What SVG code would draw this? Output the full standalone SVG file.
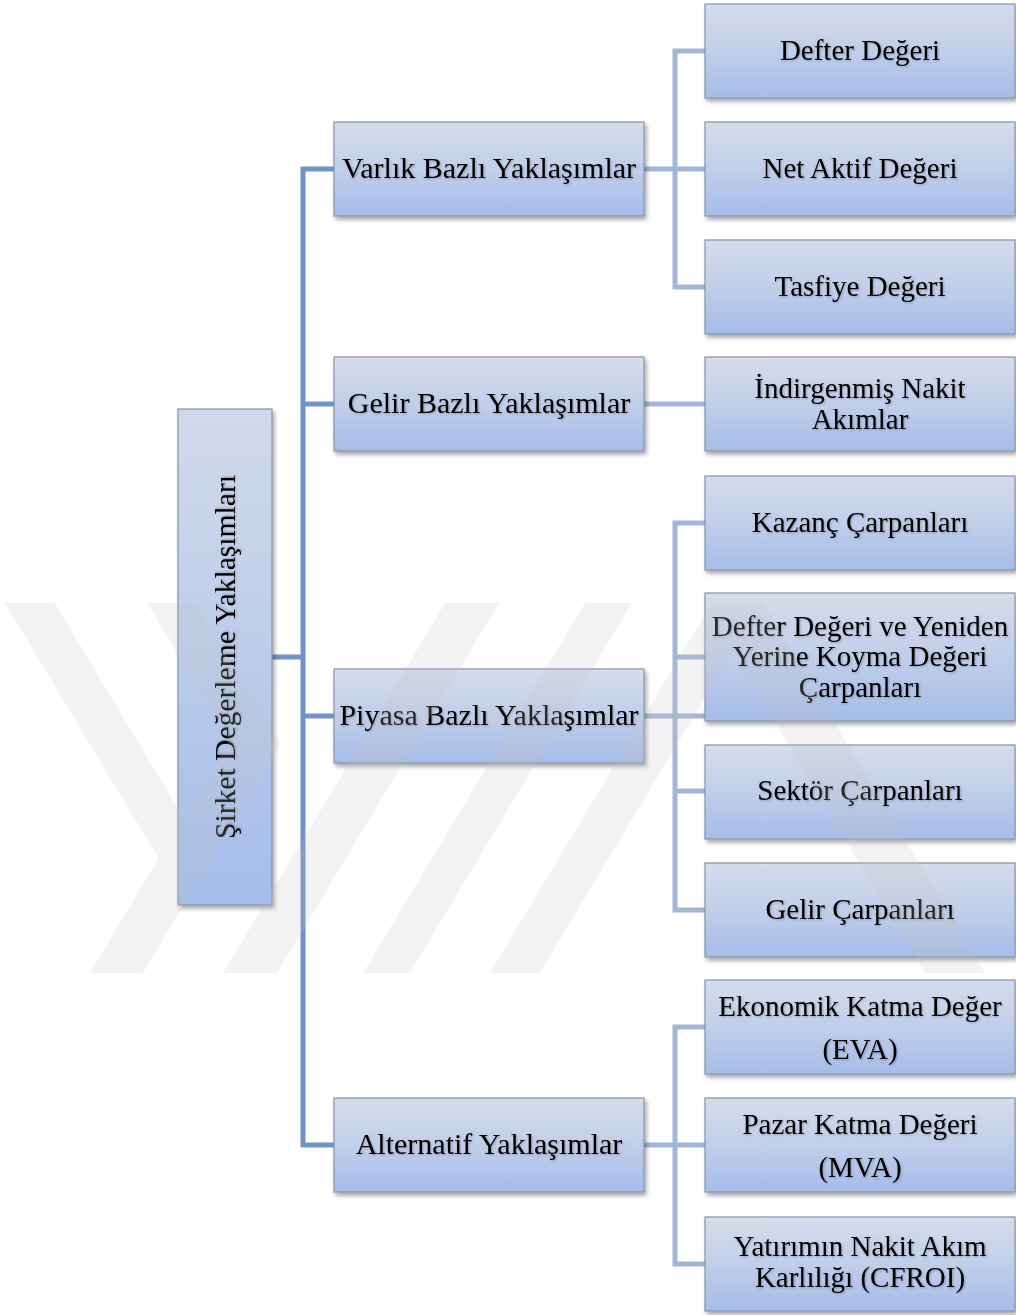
<svg xmlns="http://www.w3.org/2000/svg" width="1016" height="1315" viewBox="0 0 1016 1315">
  <defs>
    <linearGradient id="boxFill" x1="0" y1="0" x2="0" y2="1">
      <stop offset="0" stop-color="#D6DDEB"/>
      <stop offset="0.45" stop-color="#C3D0EA"/>
      <stop offset="1" stop-color="#A5BDE9"/>
    </linearGradient>
    <linearGradient id="rootFill" x1="0" y1="0" x2="0" y2="1">
      <stop offset="0" stop-color="#D2DAEA"/>
      <stop offset="0.5" stop-color="#BCCCEA"/>
      <stop offset="1" stop-color="#A4BDEB"/>
    </linearGradient>
    <filter id="boxShadow" x="-10%" y="-10%" width="125%" height="130%">
      <feDropShadow dx="2" dy="3" stdDeviation="2" flood-color="#000" flood-opacity="0.35"/>
    </filter>
    <filter id="textGlow" x="-5%" y="-20%" width="110%" height="140%">
      <feDropShadow dx="1" dy="1" stdDeviation="1" flood-color="#000" flood-opacity="0.25"/>
    </filter>
  </defs>
  <style>
    .box { fill: url(#boxFill); stroke: #8893A8; stroke-width: 1.2; filter: url(#boxShadow); }
    .root { fill: url(#rootFill); stroke: #8893A8; stroke-width: 1.2; filter: url(#boxShadow); }
    .lbl { font-family: "Liberation Serif", "Times New Roman", serif; font-size: 29px; fill: #000; text-anchor: middle; filter: url(#textGlow); }
    .big { font-size: 30px; }
    .vert { font-size: 29.6px; }
    .trunk { fill: none; stroke: #7293C7; stroke-width: 5; stroke-linejoin: miter; stroke-linecap: butt; }
    .twig { fill: none; stroke: #A2B6DA; stroke-width: 5; stroke-linejoin: miter; stroke-linecap: butt; }
    .mark { fill: #C4C4C4; opacity: 0.2; }
  </style>

  <rect x="0" y="0" width="1016" height="1315" fill="#FFFFFF"/>

  <!-- connectors -->
  <g id="connectors">
    <path class="trunk" d="M272 657 H303"/>
    <path class="trunk" d="M334 169 H303 V1145 H334"/>
    <path class="trunk" d="M303 404 H334"/>
    <path class="trunk" d="M303 716 H334"/>

    <path class="twig" d="M705 51 H675 V287 H705"/>
    <path class="twig" d="M644 169 H705"/>
    <path class="twig" d="M644 404 H705"/>
    <path class="twig" d="M705 523 H675 V910 H705"/>
    <path class="twig" d="M644 716 H705"/>
    <path class="twig" d="M675 657 H705"/>
    <path class="twig" d="M675 791 H705"/>
    <path class="twig" d="M705 1027 H675 V1264 H705"/>
    <path class="twig" d="M644 1145 H705"/>
  </g>

  <!-- root -->
  <g id="root">
    <rect class="root" x="178" y="409" width="94" height="496"/>
    <text class="lbl vert" transform="translate(235 657) rotate(-90)" x="0" y="0">Şirket Değerleme Yaklaşımları</text>
  </g>

  <!-- first level -->
  <g id="varlik">
    <rect class="box" x="334" y="122" width="310" height="94"/>
    <text class="lbl big" x="489" y="178">Varlık Bazlı Yaklaşımlar</text>
  </g>
  <g id="gelir">
    <rect class="box" x="334" y="357" width="310" height="94"/>
    <text class="lbl big" x="489" y="413">Gelir Bazlı Yaklaşımlar</text>
  </g>
  <g id="piyasa">
    <rect class="box" x="334" y="669" width="310" height="94"/>
    <text class="lbl big" x="489" y="725">Piyasa Bazlı Yaklaşımlar</text>
  </g>
  <g id="alternatif">
    <rect class="box" x="334" y="1098" width="310" height="94"/>
    <text class="lbl big" x="489" y="1154">Alternatif Yaklaşımlar</text>
  </g>

  <!-- second level -->
  <g id="defter-degeri">
    <rect class="box" x="705" y="4" width="310" height="94"/>
    <text class="lbl" x="860" y="60">Defter Değeri</text>
  </g>
  <g id="net-aktif">
    <rect class="box" x="705" y="122" width="310" height="94"/>
    <text class="lbl" x="860" y="178">Net Aktif Değeri</text>
  </g>
  <g id="tasfiye">
    <rect class="box" x="705" y="240" width="310" height="94"/>
    <text class="lbl" x="860" y="296">Tasfiye Değeri</text>
  </g>
  <g id="indirgenmis">
    <rect class="box" x="705" y="357" width="310" height="94"/>
    <text class="lbl" x="860" y="398">İndirgenmiş Nakit</text>
    <text class="lbl" x="860" y="429">Akımlar</text>
  </g>
  <g id="kazanc">
    <rect class="box" x="705" y="476" width="310" height="94"/>
    <text class="lbl" x="860" y="532">Kazanç Çarpanları</text>
  </g>
  <g id="defter-yeniden">
    <rect class="box" x="705" y="593" width="310" height="128"/>
    <text class="lbl" x="860" y="636">Defter Değeri ve Yeniden</text>
    <text class="lbl" x="860" y="666">Yerine Koyma Değeri</text>
    <text class="lbl" x="860" y="697">Çarpanları</text>
  </g>
  <g id="sektor">
    <rect class="box" x="705" y="745" width="310" height="94"/>
    <text class="lbl" x="860" y="800">Sektör Çarpanları</text>
  </g>
  <g id="gelir-carpan">
    <rect class="box" x="705" y="863" width="310" height="94"/>
    <text class="lbl" x="860" y="919">Gelir Çarpanları</text>
  </g>
  <g id="eva">
    <rect class="box" x="705" y="980" width="310" height="94"/>
    <text class="lbl" x="860" y="1016">Ekonomik Katma Değer</text>
    <text class="lbl" x="860" y="1059">(EVA)</text>
  </g>
  <g id="mva">
    <rect class="box" x="705" y="1098" width="310" height="94"/>
    <text class="lbl" x="860" y="1134">Pazar Katma Değeri</text>
    <text class="lbl" x="860" y="1177">(MVA)</text>
  </g>
  <g id="cfroi">
    <rect class="box" x="705" y="1217" width="310" height="94"/>
    <text class="lbl" x="860" y="1256">Yatırımın Nakit Akım</text>
    <text class="lbl" x="860" y="1287">Karlılığı (CFROI)</text>
  </g>

  <!-- faint striped emblem laid over the page -->
  <g id="emblem">
    <polygon class="mark" points="147,603 195,603 280,745 143,973 90,973 229,740"/>
    <polygon class="mark" points="5,603 55,603 183,817 159,859"/>
    <polygon class="mark" points="223,973 277,973 499,603 445,603"/>
    <polygon class="mark" points="363,973 410,973 632,603 585,603"/>
    <polygon class="mark" points="490,973 540,973 762,603 712,603"/>
    <polygon class="mark" points="925,973 985,973 763,603 733,652"/>
  </g>
</svg>
